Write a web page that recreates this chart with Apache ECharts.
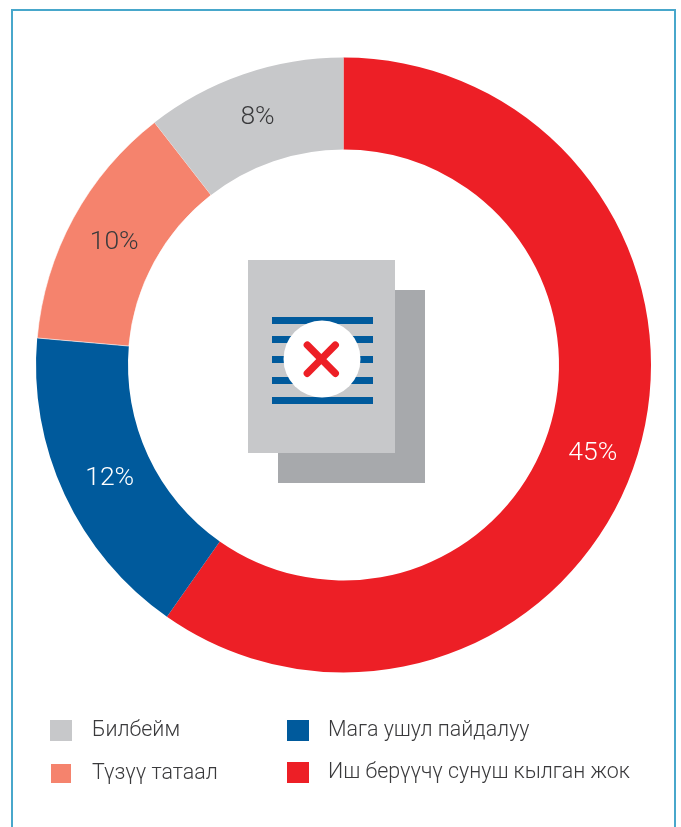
<!DOCTYPE html>
<html><head><meta charset="utf-8">
<style>html,body{margin:0;padding:0;background:#fff}#c{width:681px;height:827px}</style>
<script src="https://cdn.jsdelivr.net/npm/echarts@6/dist/echarts.min.js"></script>
</head><body><div id="c"></div>
<script>
const categories = ['Иш берүүчү сунуш кылган жок','Мага ушул пайдалуу','Түзүү татаал','Билбейм'];
const values = [44.8,12.5,9.8,7.9];
const shownLabels = ['45%','12%','10%','8%'];
const colors = ['#ED1F26','#005A9C','#F5836D','#C7C8CA'];
const labelColors = ['#fff','#fff','#3A3A3C','#3A3A3C'];
const labelNudge = [[-3,9],[6,2],[3,4],[0,3]];
const leftLegend = ['Билбейм','Түзүү татаал'];
const rightLegend = ['Мага ушул пайдалуу','Иш берүүчү сунуш кылган жок'];
const docLines = [317,336,356,377,397];
const FONT = 'Roboto';
const chart = echarts.init(document.getElementById('c'),null,{renderer:'canvas'});
const legendBase = {orient:'vertical',itemWidth:22,itemHeight:21,itemGap:21,icon:'rect',
  selectedMode:false,padding:0};
const legendText = {fontFamily:FONT,fontWeight:300,fontSize:21.4,color:'#3A3A3C'};
chart.setOption({
  animation:false,
  backgroundColor:'#fff',
  legend:[
    Object.assign({},legendBase,{left:49,top:720,data:leftLegend,textStyle:Object.assign({},legendText,{padding:[2,0,0,15]})}),
    Object.assign({},legendBase,{left:287,top:720,data:rightLegend,textStyle:Object.assign({},legendText,{padding:[2,0,0,14]})})
  ],
  series:[{
    type:'pie',
    center:[343.5,365],
    radius:[215.5,307.5],
    startAngle:90,
    clockwise:true,
    label:{position:'inside',fontFamily:FONT,fontWeight:300,fontSize:26.5,formatter:p=>shownLabels[p.dataIndex]},
    labelLine:{show:false},
    emphasis:{disabled:true},
    labelLayout:p=>({dx:labelNudge[p.dataIndex][0],dy:labelNudge[p.dataIndex][1]}),
    data:categories.map((n,i)=>({name:n,value:values[i],
      itemStyle:i===2?{color:colors[i],borderColor:'#fff',borderWidth:0.6}:{color:colors[i]},
      label:{color:labelColors[i]}}))
  }],
  graphic:{elements:[
    {type:'rect',z:1,shape:{x:12,y:10,width:663,height:840},style:{fill:'none',stroke:'#48A7CB',lineWidth:2}},
    {type:'rect',z:5,shape:{x:278,y:290,width:147,height:193},style:{fill:'#A7A9AC'}},
    {type:'rect',z:6,shape:{x:248,y:260,width:147,height:193},style:{fill:'#C7C8CA'}},
    ...docLines.map(y=>({type:'rect',z:7,shape:{x:272,y:y,width:101,height:7},style:{fill:'#005A9C'}})),
    {type:'circle',z:8,shape:{cx:322,cy:359,r:38.5},style:{fill:'#fff'}},
    {type:'line',z:9,shape:{x1:307.3,y1:345,x2:335.3,y2:373.3},style:{stroke:'#ED1F26',lineWidth:7.3,lineCap:'round'}},
    {type:'line',z:9,shape:{x1:335.3,y1:345,x2:307.3,y2:373.3},style:{stroke:'#ED1F26',lineWidth:7.3,lineCap:'round'}}
  ]}
});
</script></body></html>
